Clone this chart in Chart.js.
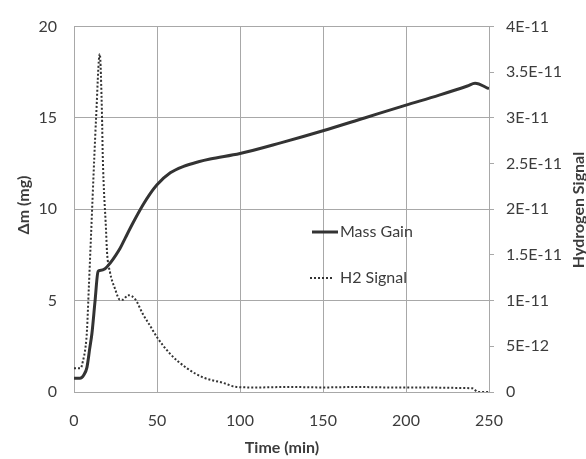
<!DOCTYPE html>
<html>
<head>
<meta charset="utf-8">
<script src="https://cdn.jsdelivr.net/npm/chart.js@4"></script>
<style>
  html, body { margin: 0; padding: 0; background: #fff; }
  #wrap { width: 586px; height: 459px; }
</style>
</head>
<body>
<div id="wrap"><canvas id="chart"></canvas></div>
<script>
// time axis (min)
var xTicks = [0, 50, 100, 150, 200, 250];
var leftTicks = [0, 5, 10, 15, 20];
var h2Ticks = [0, 5e-12, 1e-11, 1.5e-11, 2e-11, 2.5e-11, 3e-11, 3.5e-11, 4e-11];
var h2TickLabels = ['0', '5E-12', '1E-11', '1.5E-11', '2E-11', '2.5E-11', '3E-11', '3.5E-11', '4E-11'];

// Mass Gain (mg)
var massTime = [0, 3.6, 6, 7.8, 9.5, 10.8, 12.6, 14.5, 15.5, 18.7, 21.7, 24.5, 27.7, 31, 35.5, 41.6, 45.8, 50, 58, 66, 75, 82, 100, 125, 150, 175, 200, 220, 237, 241.6, 250];
var massGain = [0.75, 0.75, 0.95, 1.35, 2.4, 3.2, 4.9, 6.6, 6.65, 6.75, 7.05, 7.4, 7.85, 8.45, 9.25, 10.25, 10.85, 11.35, 12.0, 12.35, 12.6, 12.75, 13.05, 13.65, 14.3, 15.0, 15.7, 16.25, 16.75, 16.9, 16.6];

// H2 Signal
var h2Time = [0, 4, 5.4, 7, 7.8, 9, 10, 12.3, 13.3, 15.5, 16.9, 17.3, 19.3, 19.9, 21.7, 24.7, 27.7, 29.5, 32.5, 36.7, 41.6, 46, 50, 57.8, 68, 77.7, 89.8, 98, 110, 130, 150, 170, 190, 210, 230, 240, 243.5, 250];
var h2Signal = [2.6e-12, 2.6e-12, 3.4e-12, 5e-12, 6.7e-12, 11.7e-12, 16e-12, 26e-12, 30e-12, 37e-12, 30e-12, 26e-12, 17.7e-12, 15.3e-12, 13.1e-12, 11.3e-12, 10.1e-12, 10.1e-12, 10.6e-12, 10.2e-12, 8.5e-12, 7.2e-12, 6.0e-12, 4.2e-12, 2.6e-12, 1.6e-12, 1.0e-12, 0.55e-12, 0.5e-12, 0.55e-12, 0.5e-12, 0.55e-12, 0.5e-12, 0.5e-12, 0.45e-12, 0.4e-12, 0, 0];

function pts(xs, ys){
  return xs.map(function(x, i){ return {x: x, y: ys[i]}; });
}

var textColor = '#3c3c3c';
var lineColor = '#333333';
var gridColor = '#a8a8a8';

var extras = {
  id: 'extras',
  afterDraw: function(chart){
    var ctx = chart.ctx;
    ctx.save();
    ctx.fillStyle = textColor;
    ctx.textAlign = 'center';
    ctx.textBaseline = 'middle';
    ctx.font = 'bold 16px Lato';
    // x title
    ctx.fillText('Time (min)', 282, 448);
    // left title
    ctx.save();
    ctx.translate(24, 205);
    ctx.rotate(-Math.PI / 2);
    ctx.fillText('\u0394m (mg)', 0, 0);
    ctx.restore();
    // right title
    ctx.save();
    ctx.translate(579, 210);
    ctx.rotate(-Math.PI / 2);
    ctx.fillText('Hydrogen Signal', 0, 0);
    ctx.restore();

    // legend
    ctx.strokeStyle = lineColor;
    ctx.lineWidth = 3;
    ctx.beginPath();
    ctx.moveTo(312, 232); ctx.lineTo(338, 232);
    ctx.stroke();
    ctx.lineWidth = 2;
    ctx.setLineDash([2, 2]);
    ctx.beginPath();
    ctx.moveTo(310, 278); ctx.lineTo(334, 278);
    ctx.stroke();
    ctx.setLineDash([]);
    ctx.textAlign = 'left';
    ctx.font = '16px Lato';
    ctx.fillText('Mass Gain', 340, 232);
    ctx.fillText('H2 Signal', 340, 278);
    ctx.restore();
  }
};

new Chart(document.getElementById('chart'), {
  type: 'line',
  data: {
    datasets: [{
      label: 'Mass Gain',
      data: pts(massTime, massGain),
      yAxisID: 'y',
      borderColor: lineColor,
      borderWidth: 3,
      pointRadius: 0,
      cubicInterpolationMode: 'monotone',
      fill: false
    }, {
      label: 'H2 Signal',
      data: pts(h2Time, h2Signal),
      yAxisID: 'y2',
      borderColor: lineColor,
      borderWidth: 2,
      borderDash: [2, 2],
      pointRadius: 0,
      cubicInterpolationMode: 'monotone',
      fill: false
    }]
  },
  options: {
    responsive: true,
    maintainAspectRatio: false,
    animation: false,
    layout: { padding: { top: 20, left: 0, right: 0, bottom: 0 } },
    plugins: {
      legend: { display: false },
      tooltip: { enabled: false }
    },
    scales: {
      x: {
        type: 'linear',
        min: 0,
        max: 250,
        afterBuildTicks: function(s){ s.ticks = xTicks.map(function(v){ return {value: v}; }); },
        afterFit: function(s){ s.height = 67; },
        grid: { color: gridColor, drawTicks: false },
        border: { color: gridColor },
        ticks: { color: textColor, font: { family: 'Lato', size: 16 }, padding: 19, maxRotation: 0 }
      },
      y: {
        position: 'left',
        min: 0,
        max: 20,
        afterBuildTicks: function(s){ s.ticks = leftTicks.map(function(v){ return {value: v}; }); },
        afterFit: function(s){ s.width = 74; },
        grid: { color: gridColor, drawTicks: false },
        border: { color: gridColor },
        ticks: { color: textColor, font: { family: 'Lato', size: 16 }, padding: 17 }
      },
      y2: {
        position: 'right',
        min: 0,
        max: 4e-11,
        afterBuildTicks: function(s){ s.ticks = h2Ticks.map(function(v){ return {value: v}; }); },
        afterFit: function(s){ s.width = 97; },
        grid: { drawOnChartArea: false, drawTicks: true, tickLength: 5, color: gridColor },
        border: { color: gridColor },
        ticks: {
          color: textColor,
          font: { family: 'Lato', size: 16 },
          padding: 12,
          callback: function(v, i){ return h2TickLabels[i]; }
        }
      }
    }
  },
  plugins: [extras]
});
</script>
</body>
</html>
